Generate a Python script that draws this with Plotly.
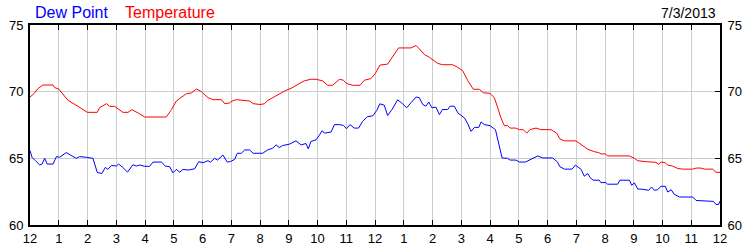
import plotly.graph_objects as go

temp_hours = [0.0, 0.16, 0.26, 0.45, 0.80, 0.86, 1.00, 1.32, 1.67, 1.99, 2.34, 2.42, 2.66, 2.77, 2.94,
              3.23, 3.41, 3.55, 3.76, 3.99, 4.74, 4.92, 5.09, 5.44, 5.61, 5.79, 5.96, 6.19, 6.37, 6.66,
              6.77, 6.94, 7.03, 7.18, 7.64, 7.76, 8.0, 8.15, 8.27, 8.44, 8.67, 8.90, 9.08, 9.31, 9.54,
              9.77, 9.95, 10.18, 10.35, 10.53, 10.76, 10.90, 11.01, 11.22, 11.48, 11.63, 11.86, 12.01,
              12.17, 12.44, 12.59, 12.82, 13.25, 13.43, 13.54, 13.72, 13.89, 14.18, 14.35, 14.70, 14.88,
              15.05, 15.23, 15.42, 15.63, 15.77, 16.0, 16.15, 16.27, 16.38, 16.50, 16.61, 16.70, 16.90,
              17.02, 17.16, 17.28, 17.39, 17.60, 17.77, 18.12, 18.32, 18.43, 18.59, 18.99, 19.17, 19.40,
              19.63, 19.78, 19.86, 20.01, 20.09, 20.85, 21.02, 21.14, 21.43, 21.77, 21.87, 21.95, 22.10,
              22.18, 22.35, 22.53, 22.70, 23.05, 23.17, 23.34, 23.46, 23.74, 23.86, 24.0]
temperature = [69.6, 69.9, 70.2, 70.5, 70.5, 70.3, 70.2, 69.35, 68.9, 68.45, 68.45, 68.8, 69.1, 68.9, 68.9,
               68.45, 68.45, 68.65, 68.4, 68.1, 68.1, 68.65, 69.3, 69.85, 69.9, 70.2, 70.0, 69.55, 69.4, 69.4,
               69.1, 69.15, 69.3, 69.4, 69.3, 69.1, 69.04, 69.09, 69.34, 69.55, 69.85, 70.1, 70.25, 70.56, 70.81,
               70.93, 70.93, 70.81, 70.48, 70.48, 70.93, 70.86, 70.61, 70.48, 70.48, 70.86, 70.98, 71.36,
               71.99, 72.07, 72.58, 73.28, 73.28, 73.46, 73.21, 72.78, 72.58, 72.12, 72.02, 72.02, 71.82,
               71.57, 70.81, 70.18, 70.18, 69.92, 69.87, 69.55, 68.79, 68.03, 67.45, 67.45, 67.27, 67.27,
               67.15, 67.15, 66.89, 67.15, 67.27, 67.15, 67.15, 66.89, 66.46, 66.31, 66.31, 66.01, 65.68,
               65.5, 65.43, 65.33, 65.33, 65.18, 65.18, 65.0, 64.82, 64.75, 64.7, 64.55, 64.72, 64.67,
               64.49, 64.42, 64.24, 64.19, 64.19, 64.27, 64.27, 64.19, 64.19, 63.96, 63.94]

dew_hours = [0.0, 0.07, 0.19, 0.34, 0.42, 0.51, 0.60, 0.80, 0.92, 1.03, 1.26, 1.44, 1.61, 1.73, 1.84, 1.96,
             2.19, 2.34, 2.50, 2.62, 2.71, 2.83, 3.00, 3.08, 3.23, 3.39, 3.58, 3.70, 3.81, 3.99, 4.16, 4.28,
             4.57, 4.71, 4.86, 4.97, 5.09, 5.21, 5.32, 5.50, 5.73, 5.87, 6.02, 6.19, 6.28, 6.42, 6.52, 6.60,
             6.71, 6.86, 6.98, 7.12, 7.21, 7.35, 7.47, 7.64, 7.76, 8.0, 8.09, 8.27, 8.44, 8.56, 8.67, 8.79,
             9.02, 9.25, 9.43, 9.60, 9.68, 9.77, 9.95, 10.06, 10.16, 10.24, 10.47, 10.59, 10.76, 10.90, 11.01,
             11.13, 11.28, 11.43, 11.57, 11.74, 11.92, 12.06, 12.17, 12.32, 12.44, 12.59, 12.79, 12.96, 13.10,
             13.25, 13.43, 13.54, 13.66, 13.77, 13.87, 13.98, 14.12, 14.24, 14.35, 14.53, 14.61, 14.76, 14.88,
             15.11, 15.23, 15.34, 15.46, 15.61, 15.69, 15.80, 16.0, 16.19, 16.30, 16.42, 16.61, 16.70, 16.90,
             17.02, 17.23, 17.37, 17.51, 17.66, 17.83, 18.18, 18.35, 18.43, 18.59, 18.85, 18.97, 19.05, 19.17,
             19.28, 19.40, 19.48, 19.59, 19.80, 19.86, 20.03, 20.09, 20.44, 20.52, 20.85, 20.93, 21.02, 21.14,
             21.31, 21.52, 21.62, 21.72, 21.83, 21.95, 22.10, 22.18, 22.30, 22.41, 22.59, 23.05, 23.17, 23.41,
             23.77, 23.86, 23.95, 24.0]
dew_point = [65.58, 65.08, 64.82, 64.5, 64.57, 65.0, 64.57, 64.57, 65.13, 65.08, 65.43, 65.18, 65.0, 65.13, 65.08, 65.08,
             65.0, 63.94, 63.86, 64.32, 64.17, 64.47, 64.42, 64.57, 64.32, 63.96, 64.52, 64.42, 64.5, 64.4, 64.4, 64.72,
             64.72, 64.42, 64.37, 63.91, 64.17, 63.96, 64.17, 64.12, 64.22, 64.75, 64.67, 64.82, 64.72, 65.0, 64.87, 65.0,
             65.25, 64.72, 64.77, 64.92, 65.38, 65.38, 65.63, 65.63, 65.38, 65.38, 65.38, 65.63, 65.76, 66.01, 65.81, 65.96,
             66.06, 66.31, 66.01, 66.11, 65.71, 66.26, 66.39, 66.72, 67.07, 66.89, 66.97, 67.53, 67.53, 67.47, 67.22,
             67.53, 67.27, 67.27, 67.78, 68.13, 68.18, 68.59, 69.09, 68.99, 68.21, 68.66, 69.39, 69.09, 68.79,
             69.17, 69.6, 69.55, 69.04, 68.91, 69.22, 68.79, 68.84, 68.28, 68.66, 68.66, 68.91, 68.91, 68.41,
             68.03, 67.58, 67.02, 67.32, 67.32, 67.73, 67.53, 67.45, 67.15, 66.01, 65.03, 65.0, 64.87, 64.87,
             64.72, 64.72, 64.87, 65.08, 65.18, 65.03, 65.03, 64.72, 64.37, 64.19, 64.19, 64.49, 64.37, 64.17,
             63.66, 63.86, 63.56, 63.36, 63.36, 63.18, 63.18, 63.06, 63.06, 63.36, 63.36, 62.98, 63.16, 62.7,
             62.68, 62.6, 62.85, 62.6, 62.65, 62.9, 62.9, 62.47, 62.65, 62.3, 62.1, 62.1, 61.84, 61.79,
             61.77, 61.54, 61.54, 61.79]

hour_ticks = list(range(0, 25))
hour_labels = ["12", "1", "2", "3", "4", "5", "6", "7", "8", "9", "10", "11",
               "12", "1", "2", "3", "4", "5", "6", "7", "8", "9", "10", "11", "12"]
y_ticks = [60, 65, 70, 75]
series_names = ["Dew Point", "Temperature"]
date_label = "7/3/2013"

FONT = "Liberation Sans, Arial, sans-serif"
GRID = "#cccccc"

fig = go.Figure()
fig.add_trace(go.Scatter(x=temp_hours, y=temperature, mode="lines", name=series_names[1],
                         line=dict(color="#ff0000", width=1), showlegend=False))
fig.add_trace(go.Scatter(x=dew_hours, y=dew_point, mode="lines", name=series_names[0],
                         line=dict(color="#0000ff", width=1), showlegend=False, yaxis="y2"))

fig.update_layout(
    width=750, height=250,
    margin=dict(l=30, r=30, t=25, b=25, autoexpand=False),
    paper_bgcolor="white", plot_bgcolor="white",
    font=dict(family=FONT, size=13, color="black"),
    xaxis=dict(range=[0, 24], tickmode="array", tickvals=hour_ticks, ticktext=hour_labels,
               showgrid=True, gridcolor=GRID, gridwidth=1, zeroline=False,
               showline=True, linecolor="black", linewidth=2, mirror="ticks",
               ticks="inside", ticklen=5, tickcolor="black", tickwidth=1,
               ticklabelstandoff=0, automargin=False,
               tickfont=dict(family=FONT, size=13, color="black")),
    yaxis=dict(range=[60, 75], tickmode="array", tickvals=y_ticks,
               showgrid=True, gridcolor=GRID, gridwidth=1, zeroline=False,
               showline=True, linecolor="black", linewidth=2, ticks="",
               ticklabelstandoff=2, automargin=False,
               tickfont=dict(family=FONT, size=13, color="black")),
    yaxis2=dict(range=[60, 75], tickmode="array", tickvals=y_ticks, overlaying="y", side="right",
                showgrid=False, zeroline=False,
                showline=True, linecolor="black", linewidth=2,
                ticks="inside", ticklen=5, tickcolor="black", tickwidth=1,
                ticklabelstandoff=3, automargin=False,
                tickfont=dict(family=FONT, size=13, color="black")),
    annotations=[
        dict(text=series_names[0], xref="paper", yref="paper", x=3/690, y=1 + 13/200,
             xanchor="left", yanchor="middle", showarrow=False,
             font=dict(family=FONT, size=16, color="#0000ff")),
        dict(text=series_names[1], xref="paper", yref="paper", x=93/690, y=1 + 13/200,
             xanchor="left", yanchor="middle", showarrow=False,
             font=dict(family=FONT, size=16, color="#ff0000")),
        dict(text=date_label, xref="paper", yref="paper", x=1 - 2/690, y=1 + 12/200,
             xanchor="right", yanchor="middle", showarrow=False,
             font=dict(family=FONT, size=14, color="black")),
    ],
)

fig.write_html("out.html")
